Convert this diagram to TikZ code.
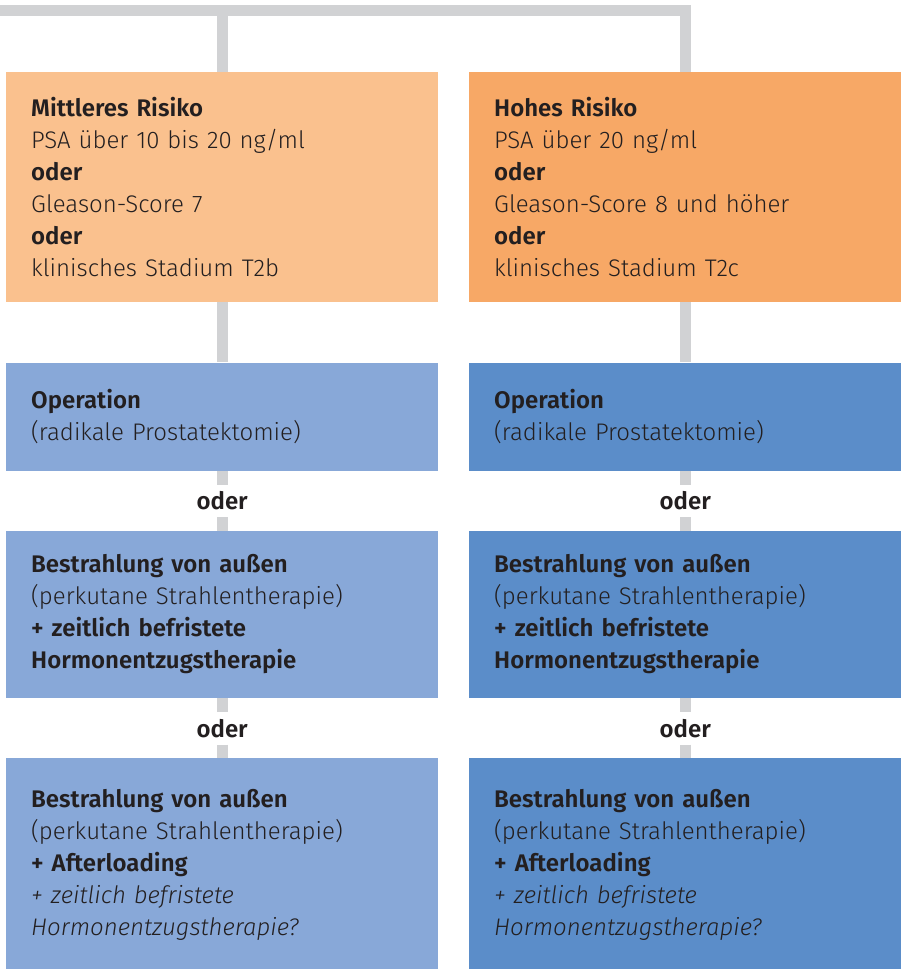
\documentclass[tikz,border=0pt]{standalone}
\usepackage{fontspec}
\setmainfont{Fira Sans Light}[BoldFont={Fira Sans SemiBold},ItalicFont={Fira Sans Light Italic},BoldItalicFont={Fira Sans SemiBold Italic}]
\usetikzlibrary{positioning}
\definecolor{orangelight}{RGB}{250,193,142}
\definecolor{orangedark}{RGB}{247,168,102}
\definecolor{bluelight}{RGB}{136,168,216}
\definecolor{bluedark}{RGB}{91,141,201}
\definecolor{linegray}{RGB}{209,210,212}
\definecolor{textgray}{RGB}{35,31,32}
\begin{document}
\begin{tikzpicture}
[x=1pt,y=-1pt,
  box/.style={anchor=north west,minimum width=432pt,inner xsep=25pt,
    inner ysep=0pt,text width=382pt,align=left,text=textgray,
    font=\fontsize{24}{32}\selectfont},%
  oderlabel/.style={minimum height=32pt,inner sep=0pt,text=textgray,
    font=\fontsize{24}{32}\selectfont\bfseries},%
  connect/.style={-,draw=linegray,line width=11pt}]
\useasboundingbox (0,0) rectangle (901,969);
%% risk boxes
\node (mittel) at (6,72) [box,fill=orangelight,minimum height=230pt]
  {\textbf{Mittleres Risiko}\\PSA über 10 bis 20 ng/ml\\\textbf{oder}\\
   Gleason-Score 7\\\textbf{oder}\\klinisches Stadium T2b};
\node (hoch) at (469,72) [box,fill=orangedark,minimum height=230pt]
  {\textbf{Hohes Risiko}\\PSA über 20 ng/ml\\\textbf{oder}\\
   Gleason-Score 8 und höher\\\textbf{oder}\\klinisches Stadium T2c};
%% therapy boxes, left and right
\foreach \side/\risk/\shade in {L/mittel/bluelight, R/hoch/bluedark} {
  \node (op\side) [box,fill=\shade,minimum height=108pt,below=60pt of \risk]
    {\textbf{Operation}\\(radikale Prostatektomie)};
  \node (oderA\side) [oderlabel,below=14pt of op\side] {oder};
  \node (str\side) [box,fill=\shade,minimum height=167pt,below=60pt of op\side]
    {\textbf{Bestrahlung von außen}\\(perkutane Strahlentherapie)\\
     \textbf{+ zeitlich befristete}\\\textbf{Hormonentzugstherapie}};
  \node (oderB\side) [oderlabel,below=14pt of str\side] {oder};
  \node (after\side) [box,fill=\shade,minimum height=212pt,below=60pt of str\side]
    {\textbf{Bestrahlung von außen}\\(perkutane Strahlentherapie)\\
     \textbf{+ Afterloading}\\\textit{+ zeitlich befristete}\\
     \textit{Hormonentzugstherapie?}};
}
%% edges or lines
\coordinate (start) at (0,10);
\draw[connect] (start) -| (hoch);
\draw[connect] (mittel.north |- start) -- (mittel);
\path
\foreach \startnode/\endnode in {mittel/opL, hoch/opR, opL/oderAL,
  oderAL/strL, opR/oderAR, oderAR/strR, strL/oderBL, oderBL/afterL,
  strR/oderBR, oderBR/afterR} {
  (\startnode) edge[connect] (\endnode)
};
\end{tikzpicture}
\end{document}
